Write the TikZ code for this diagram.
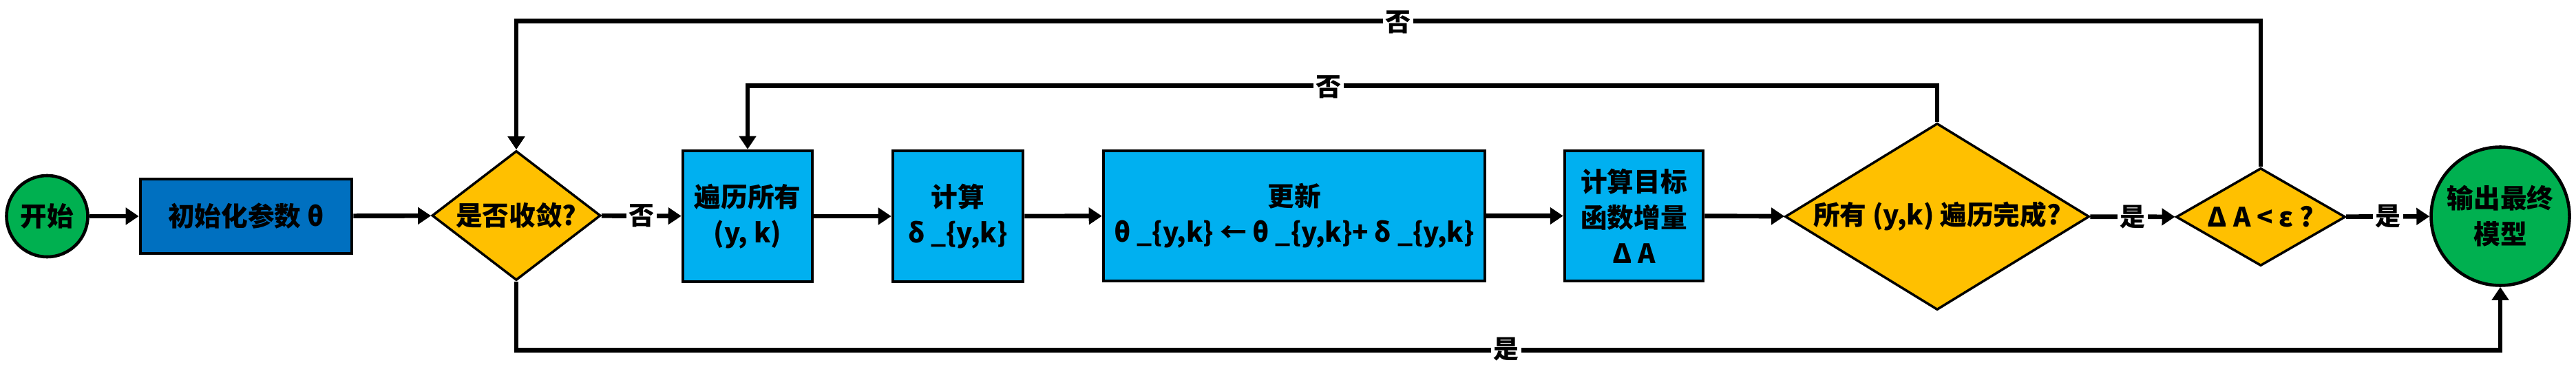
\documentclass[tikz,border=0pt]{standalone}
\usepackage{fontspec}
\setmainfont{Noto Sans CJK SC}
\usetikzlibrary{arrows.meta,shapes.geometric}
\definecolor{startgreen}{HTML}{00B050}
\definecolor{darkblue}{HTML}{0070C0}
\definecolor{lightblue}{HTML}{00B0F0}
\definecolor{decyellow}{HTML}{FFC000}
\begin{document}
\begin{tikzpicture}[
  font=\fontsize{11pt}{14.8pt}\selectfont\bfseries,
  term/.style={circle, draw, line width=1.3pt, fill=startgreen, inner sep=0pt, align=center},
  proc/.style={rectangle, draw, line width=1.3pt, fill=lightblue, inner sep=0pt, align=center},
  decide/.style={diamond, draw, line width=1pt, fill=decyellow, inner sep=0pt, align=center},
  arr/.style={line width=1.9pt, -{Triangle[length=1.9mm,width=2.4mm]}},
  lbl/.style={fill=white, inner sep=1pt, font=\fontsize{10.5pt}{12pt}\selectfont\bfseries}
]
\useasboundingbox (0,0) rectangle (37.42,-5.46);
\node [term, minimum size=1.18cm] (start) at (0.685,-3.14) {开始};
\node [proc, fill=darkblue, minimum width=3.07cm, minimum height=1.08cm] (init) at (3.575,-3.14) {初始化参数 θ};
\node [decide, aspect=1.3, minimum width=2.45cm, minimum height=1.88cm] (d1) at (7.50,-3.13) {是否收敛?};
\node [proc, minimum width=1.88cm, minimum height=1.90cm] (trav) at (10.86,-3.14) {遍历所有\\(y, k)};
\node [proc, minimum width=1.89cm, minimum height=1.90cm] (calc) at (13.915,-3.14) {计算\\δ \_\{y,k\}};
\node [proc, minimum width=5.54cm, minimum height=1.89cm] (upd) at (18.80,-3.135) {更新\\θ \_\{y,k\} ← θ \_\{y,k\}+ δ \_\{y,k\}};
\node [proc, minimum width=2.01cm, minimum height=1.89cm] (obj) at (23.735,-3.135) {计算目标\\函数增量\\Δ A};
\node [decide, aspect=1.63, minimum width=4.42cm, minimum height=2.71cm] (d2) at (28.14,-3.145) {所有 (y,k) 遍历完成?};
\node [decide, aspect=1.73, minimum width=2.46cm, minimum height=1.42cm] (d3) at (32.84,-3.15) {Δ A < ε ?};
\node [term, minimum size=2.01cm] (end) at (36.32,-3.14) {输出最终\\模型};
\draw [arr] (start) -- (init);
\draw [arr] (init) -- (d1);
\draw [arr] (d1) -- node [lbl] {否} (trav);
\draw [arr] (trav) -- (calc);
\draw [arr] (calc) -- (upd);
\draw [arr] (upd) -- (obj);
\draw [arr] (obj) -- (d2);
\draw [arr] (d2) -- node [lbl] {是} (d3);
\draw [arr] (d3) -- node [lbl] {是} (end);
\draw [arr] (d2.north) -- ++(0,0.53) -| (trav.north);
\draw [arr] (d3.north) -- ++(0,2.12) -| (d1.north);
\draw [arr] (d1.south) -- ++(0,-1.0) -| (end.south);
\node [lbl] at (19.30,-1.26) {否};
\node [lbl] at (20.31,-0.32) {否};
\node [lbl] at (21.88,-5.07) {是};
\end{tikzpicture}
\end{document}
